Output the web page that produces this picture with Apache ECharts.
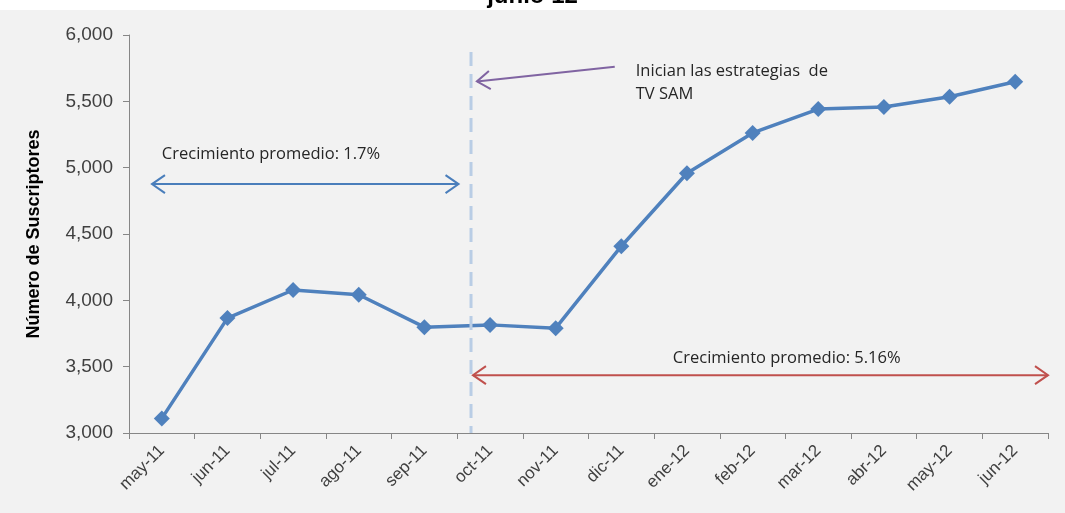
<!DOCTYPE html>
<html>
<head>
<meta charset="utf-8">
<script src="https://cdn.jsdelivr.net/npm/echarts@6/dist/echarts.min.js"></script>
<style>
html, body { margin: 0; padding: 0; background: #ffffff; }
#main { width: 1065px; height: 513px; }
</style>
</head>
<body>
<div id="main"></div>
<script>
var months = ['may-11', 'jun-11', 'jul-11', 'ago-11', 'sep-11', 'oct-11', 'nov-11',
              'dic-11', 'ene-12', 'feb-12', 'mar-12', 'abr-12', 'may-12', 'jun-12'];
var subs = [3110, 3866, 4078, 4042, 3798, 3815, 3790, 4408, 4958, 5262, 5442, 5457, 5535, 5648];
var yTicks = [3000, 3500, 4000, 4500, 5000, 5500, 6000];

// annotation positions in axis units (x: category slots 0..14, y: subscribers)
var divider = [[5.21, 5872], [5.21, 3000]];
var arrowBefore = [[0.35, 4876], [5.02, 4876]];
var arrowAfter = [[5.24, 3436], [14.0, 3436]];
var arrowNote = [[7.4, 5760], [5.3, 5650]];

var chart = echarts.init(document.getElementById('main'));

chart.setOption({
    backgroundColor: '#f2f2f2',
    animation: false,
    title: {
        text: 'junio 12',
        left: 'center',
        top: -21,
        textStyle: { fontFamily: 'Liberation Sans', fontWeight: 'bold', fontSize: 24, color: '#000' }
    },
    grid: { left: 129, right: 17, top: 35, bottom: 80 },
    xAxis: [{
        type: 'category',
        data: months,
        boundaryGap: true,
        axisLine: { lineStyle: { color: '#868686', width: 1 } },
        axisTick: { show: true, length: 6, alignWithLabel: false, lineStyle: { color: '#868686' } },
        axisLabel: {
            rotate: 45, interval: 0, margin: 15,
            fontFamily: 'Liberation Sans', fontSize: 17, color: '#404040'
        }
    }, {
        type: 'value', min: 0, max: 14, show: false
    }],
    yAxis: {
        type: 'value',
        min: yTicks[0], max: yTicks[yTicks.length - 1], interval: 500,
        name: 'Número de Suscriptores',
        nameLocation: 'middle',
        nameGap: 86,
        nameTextStyle: { fontFamily: 'Liberation Sans', fontWeight: 'bold', fontSize: 18, color: '#000' },
        splitLine: { show: false },
        axisLine: { show: true, lineStyle: { color: '#868686' } },
        axisTick: { show: true, length: 6, lineStyle: { color: '#868686' } },
        axisLabel: {
            fontFamily: 'Liberation Sans', fontSize: 19, color: '#404040', margin: 16,
            formatter: function (v) { return v.toLocaleString('en-US'); }
        }
    },
    series: [{
        type: 'line',
        data: subs,
        symbol: 'diamond',
        symbolSize: 16,
        lineStyle: { color: '#4f81bd', width: 3.5 },
        itemStyle: { color: '#4f81bd' }
    }, {
        type: 'line',
        xAxisIndex: 1,
        data: divider,
        symbol: 'none',
        silent: true,
        lineStyle: { color: '#b9cde5', width: 3, type: [14, 8] }
    }]
});

function px(p) { return chart.convertToPixel({ xAxisIndex: 1, yAxisIndex: 0 }, p); }

function arrowLine(pts, color, heads) {
    var a = px(pts[0]), b = px(pts[1]);
    var els = [{
        type: 'line', silent: true,
        shape: { x1: a[0], y1: a[1], x2: b[0], y2: b[1] },
        style: { stroke: color, lineWidth: 2 }
    }];
    var dx = b[0] - a[0], dy = b[1] - a[1];
    var len = Math.sqrt(dx * dx + dy * dy);
    dx /= len; dy /= len;
    function head(t, sx, sy) {
        var L = 13, W = 9;
        return {
            type: 'polyline', silent: true,
            shape: { points: [
                [t[0] - sx * L - sy * W, t[1] - sy * L + sx * W],
                [t[0], t[1]],
                [t[0] - sx * L + sy * W, t[1] - sy * L - sx * W]
            ] },
            style: { stroke: color, lineWidth: 2, fill: null }
        };
    }
    if (heads.indexOf('end') >= 0) els.push(head(b, dx, dy));
    if (heads.indexOf('start') >= 0) els.push(head(a, -dx, -dy));
    return els;
}

var txtFont = '16.5px "Open Sans", sans-serif';
var g = [{
    type: 'rect', silent: true, z: -1,
    shape: { x: 0, y: 0, width: 1065, height: 10 },
    style: { fill: '#ffffff' }
}];
g = g.concat(arrowLine(arrowBefore, '#4a7ebb', ['start', 'end']));
g = g.concat(arrowLine(arrowAfter, '#c0504d', ['start', 'end']));
g = g.concat(arrowLine(arrowNote, '#8064a2', ['end']));

var t1 = px([0.5, 5100]);
var t2 = px([10.02, 3560]);
var t3 = px([7.72, 5815]);
g.push({ type: 'text', silent: true, x: t1[0], y: t1[1],
    style: { text: 'Crecimiento promedio: 1.7%', font: txtFont, fill: '#262626', align: 'left', verticalAlign: 'middle' } });
g.push({ type: 'text', silent: true, x: t2[0], y: t2[1],
    style: { text: 'Crecimiento promedio: 5.16%', font: txtFont, fill: '#262626', align: 'center', verticalAlign: 'middle' } });
g.push({ type: 'text', silent: true, x: t3[0], y: t3[1],
    style: { text: 'Inician las estrategias  de\nTV SAM', font: txtFont, fill: '#262626', align: 'left', verticalAlign: 'top', lineHeight: 23 } });

chart.setOption({ graphic: g });
</script>
</body>
</html>
